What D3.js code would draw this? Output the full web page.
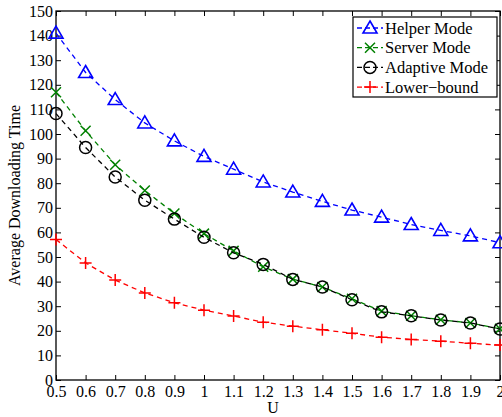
<!DOCTYPE html>
<html>
<head>
<meta charset="utf-8">
<script src="https://cdn.jsdelivr.net/npm/d3@7"></script>
<style>
  body { margin: 0; background: #fff; }
  svg text { font-family: "Liberation Serif", "Times New Roman", serif; }
</style>
</head>
<body>
<svg id="chart" width="502" height="417"></svg>
<script>
const uValues = [0.5, 0.6, 0.7, 0.8, 0.9, 1.0, 1.1, 1.2, 1.3, 1.4, 1.5, 1.6, 1.7, 1.8, 1.9, 2.0];
const helperMode   = [141, 125, 114, 104.5, 97.2, 90.9, 85.7, 80.5, 76.4, 72.6, 69.1, 66.2, 63.2, 60.8, 58.6, 55.8];
const serverMode   = [117, 101.3, 87.5, 77, 67.7, 59.5, 52.5, 46, 41, 37.8, 33, 28, 26.1, 24.5, 23.2, 20.8];
const adaptiveMode = [108.3, 94.5, 82.5, 73.1, 65.4, 58, 51.7, 47, 40.9, 37.8, 32.6, 27.7, 26.1, 24.4, 23.2, 20.7];
const lowerBound   = [57.1, 47.6, 40.6, 35.4, 31.4, 28.4, 26, 23.5, 21.9, 20.4, 19, 17.4, 16.5, 15.8, 14.9, 14.2];
const xTicks = [0.5, 0.6, 0.7, 0.8, 0.9, 1, 1.1, 1.2, 1.3, 1.4, 1.5, 1.6, 1.7, 1.8, 1.9, 2];
const yTicks = d3.range(0, 151, 10);

const seriesList = [
  { name: "Helper Mode", values: helperMode, color: "#0000ff", marker: "triangle" },
  { name: "Server Mode", values: serverMode, color: "#008000", marker: "x" },
  { name: "Adaptive Mode", values: adaptiveMode, color: "#000000", marker: "circle" },
  { name: "Lower\u2212bound", values: lowerBound, color: "#ff0000", marker: "plus" }
];

const svg = d3.select("#chart");
const plotLeft = 56, plotRight = 500, plotTop = 11, plotBottom = 380;

const x = d3.scaleLinear().domain([0.5, 2]).range([plotLeft, plotRight]);
const y = d3.scaleLinear().domain([0, 150]).range([plotBottom, plotTop]);

// frame with inward ticks on all sides
svg.append("g")
   .attr("transform", `translate(0,${plotBottom})`)
   .call(d3.axisBottom(x).tickValues(xTicks).tickSizeInner(-5).tickSizeOuter(0).tickPadding(6).tickFormat(d3.format("")))
   .call(g => g.select(".domain").remove())
   .call(g => g.selectAll("text").attr("font-size", 16).attr("fill", "#000"));

svg.append("g")
   .attr("transform", `translate(0,${plotTop})`)
   .call(d3.axisTop(x).tickValues(xTicks).tickSizeInner(-5).tickSizeOuter(0).tickFormat(""))
   .call(g => g.select(".domain").remove());

svg.append("g")
   .attr("transform", `translate(${plotLeft},0)`)
   .call(d3.axisLeft(y).tickValues(yTicks).tickSizeInner(-5).tickSizeOuter(0).tickPadding(3))
   .call(g => g.select(".domain").remove())
   .call(g => g.selectAll("text").attr("font-size", 16).attr("fill", "#000"));

svg.append("g")
   .attr("transform", `translate(${plotRight},0)`)
   .call(d3.axisRight(y).tickValues(yTicks).tickSizeInner(-5).tickSizeOuter(0).tickFormat(""))
   .call(g => g.select(".domain").remove());

svg.append("rect")
   .attr("x", plotLeft).attr("y", plotTop)
   .attr("width", plotRight - plotLeft).attr("height", plotBottom - plotTop)
   .attr("fill", "none").attr("stroke", "#000").attr("stroke-width", 1.3);

// axis titles
svg.append("text")
   .attr("x", (plotLeft + plotRight) / 2 - 5)
   .attr("y", 413)
   .attr("text-anchor", "middle")
   .attr("font-size", 16)
   .text("U");

svg.append("text")
   .attr("transform", `translate(20,${(plotTop + plotBottom) / 2}) rotate(-90)`)
   .attr("text-anchor", "middle")
   .attr("font-size", 16)
   .text("Average Downloading Time");

function drawMarker(g, type, cx, cy, color) {
  if (type === "triangle") {
    g.append("path")
     .attr("d", `M${cx},${cy - 7}L${cx + 7},${cy + 5}L${cx - 7},${cy + 5}Z`)
     .attr("fill", "none").attr("stroke", color).attr("stroke-width", 1.6);
  } else if (type === "circle") {
    g.append("circle").attr("cx", cx).attr("cy", cy).attr("r", 6)
     .attr("fill", "none").attr("stroke", color).attr("stroke-width", 1.5);
  } else if (type === "x") {
    g.append("path")
     .attr("d", `M${cx - 5},${cy - 5}L${cx + 5},${cy + 5}M${cx - 5},${cy + 5}L${cx + 5},${cy - 5}`)
     .attr("stroke", color).attr("stroke-width", 1.5);
  } else {
    g.append("path")
     .attr("d", `M${cx - 6},${cy}L${cx + 6},${cy}M${cx},${cy - 6}L${cx},${cy + 6}`)
     .attr("stroke", color).attr("stroke-width", 1.5);
  }
}

const line = d3.line().x(d => x(d[0])).y(d => y(d[1]));

const plot = svg.append("g");
seriesList.forEach(s => {
  const pts = uValues.map((u, i) => [u, s.values[i]]);
  plot.append("path")
      .attr("d", line(pts))
      .attr("fill", "none")
      .attr("stroke", s.color)
      .attr("stroke-width", 1.3)
      .attr("stroke-dasharray", "5,4");
  const mg = plot.append("g");
  pts.forEach(p => drawMarker(mg, s.marker, x(p[0]), y(p[1]), s.color));
});

// legend
const legend = svg.append("g");
legend.append("rect")
      .attr("x", 353).attr("y", 17)
      .attr("width", 144).attr("height", 80)
      .attr("fill", "#fff").attr("stroke", "#000").attr("stroke-width", 1.2);

seriesList.forEach((s, i) => {
  const ly = 28 + i * 19.7;
  legend.append("line")
        .attr("x1", 357).attr("x2", 383)
        .attr("y1", ly).attr("y2", ly)
        .attr("stroke", s.color).attr("stroke-width", 1.3)
        .attr("stroke-dasharray", "5,3");
  drawMarker(legend, s.marker, 370, ly, s.color);
  legend.append("text")
        .attr("x", 385).attr("y", ly + 5.5)
        .attr("font-size", 16.5)
        .text(s.name);
});
</script>
</body>
</html>
